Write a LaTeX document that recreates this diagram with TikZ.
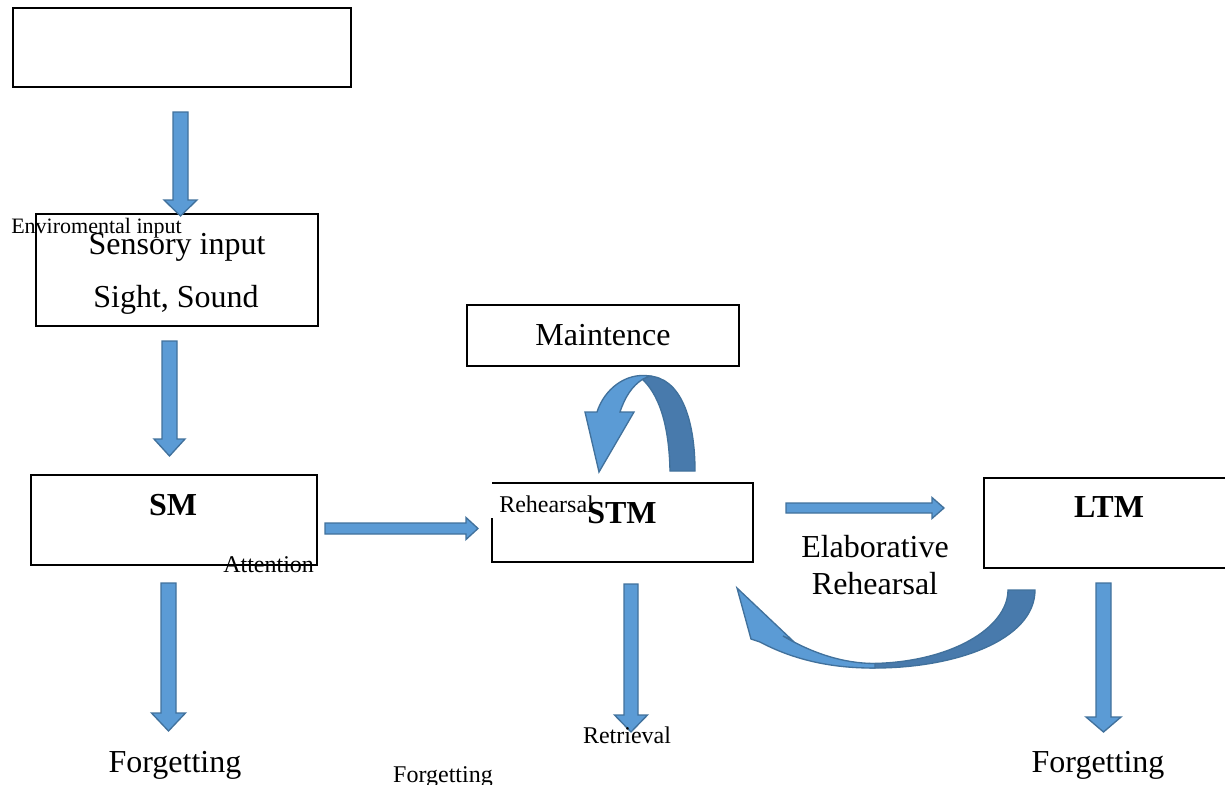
\documentclass[tikz,border=0pt]{standalone}
\usepackage{fontspec}
\setmainfont{Liberation Serif}
\definecolor{afill}{RGB}{91,155,213}
\definecolor{aline}{RGB}{65,113,156}
\definecolor{adark}{RGB}{72,122,172}
\newcommand\bdown[6]{\draw[barrow] ({#1-#4},#2) -- ({#1+#4},#2) -- ({#1+#4},#6) -- ({#1+#5},#6) -- (#1,#3) -- ({#1-#5},#6) -- ({#1-#4},#6) -- cycle;}
\newcommand\bright[6]{\draw[barrow] (#2,{#1-#4}) -- (#6,{#1-#4}) -- (#6,{#1-#5}) -- (#3,#1) -- (#6,{#1+#5}) -- (#6,{#1+#4}) -- (#2,{#1+#4}) -- cycle;}
\begin{document}
\begin{tikzpicture}[x=0.75pt,y=-0.75pt,
  box/.style={draw=black,line width=0.9pt},
  barrow/.style={fill=afill,draw=aline,line width=1pt,line join=miter},
  darrow/.style={fill=adark,draw=aline,line width=1pt,line join=miter},
  big/.style={font=\fontsize{24}{28}\selectfont, inner sep=0pt, anchor=base},
  bigb/.style={font=\fontsize{24}{28}\selectfont\bfseries, inner sep=0pt, anchor=base},
  small/.style={font=\fontsize{18}{21}\selectfont, inner sep=0pt, anchor=base},
  tiny/.style={font=\fontsize{16.5}{19}\selectfont, inner sep=0pt, anchor=base west}]
\useasboundingbox (0,0) rectangle (1225,785);
% boxes
\draw[box] (13,8) rectangle (351,87);
\coordinate (top) at (182,47);
\draw[box] (36,214) rectangle (318,326);
\draw[box] (31,475) rectangle (317,565);
\draw[box] (467,305) rectangle (739,366);
\draw[box] (492,518) -- (492,562) -- (753,562) -- (753,483) -- (492,483);
\draw[box] (1225,478) -- (984,478) -- (984,568) -- (1225,568);
% straight block arrows
\bdown{180.5}{112}{216}{7.5}{16.5}{200}
\bdown{169.5}{341}{456}{7.5}{15.5}{439}
\bdown{168.5}{583}{731}{7.5}{17}{713}
\bdown{631}{584}{732}{7}{16.5}{715}
\bdown{1103.5}{583}{732}{7.5}{17.5}{717}
\bright{528.5}{325}{478}{5.5}{11}{466}
\bright{508}{786}{944}{5}{10.5}{932}
% maintenance loop arrow
\draw[darrow] (670,471) .. controls (669,422) and (658,393) .. (641,378)
  -- (648,376) .. controls (681,377) and (695,420) .. (695,471) -- cycle;
\draw[barrow] (650,376) .. controls (625,372) and (604,390) .. (597,412)
  -- (585,412) -- (599,472) -- (634,412) -- (620,412)
  .. controls (625,397) and (632,386) .. (643,379) -- cycle;
% elaborative return arrow
\draw[darrow] (870,668) .. controls (955,669) and (1035,640) .. (1035,590)
  -- (1008,590) .. controls (1008,628) and (950,663) .. (870,663.5) -- cycle;
\draw[barrow] (875,668) .. controls (828,668.5) and (790,658) .. (760,642)
  -- (751,639) -- (737,588) -- (792,640) -- (783,636)
  .. controls (812,653) and (843,663.5) .. (875,663.5) -- cycle;
% texts
\node[tiny] (env) at (11,233) {Enviromental input};
\node[big] (sens) at (177,254) {Sensory input};
\node[big] (sight) at (176,307) {Sight, Sound};
\node[bigb] (sm) at (173,515) {SM};
\node[small, anchor=base west] (att) at (223,572) {Attention};
\node[big] (maint) at (603,345) {Maintence};
\node[small, anchor=base west, fill=white, inner xsep=0pt, inner ysep=3pt] (reh) at (499,512) {Rehearsal};
\node[bigb] (stm) at (622,523) {STM};
\node[big] (elab) at (875,557) {Elaborative};
\node[big] (elab2) at (875,594) {Rehearsal};
\node[bigb] (ltm) at (1109,517) {LTM};
\node[small] (ret) at (627,743) {Retrieval};
\node[big] (f1) at (175,772) {Forgetting};
\node[small] (f2) at (443,782) {Forgetting};
\node[big] (f3) at (1098,772) {Forgetting};
\end{tikzpicture}
\end{document}
